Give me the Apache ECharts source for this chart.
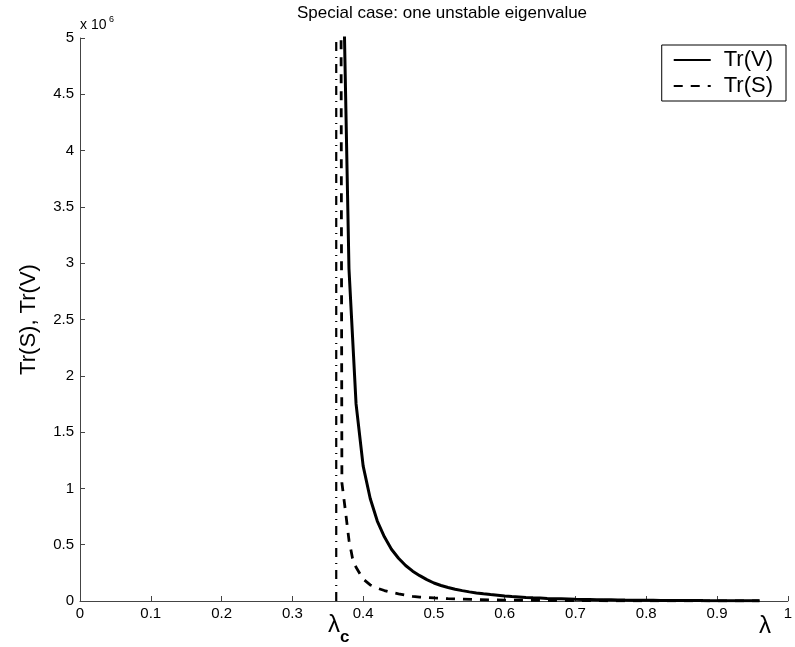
<!DOCTYPE html>
<html>
<head>
<meta charset="utf-8">
<script src="https://cdn.jsdelivr.net/npm/echarts@6/dist/echarts.min.js"></script>
<style>html,body{margin:0;padding:0;background:#fff}#c{width:795px;height:647px}</style>
</head>
<body>
<div id="c"></div>
<script>
// Data
var lambdaV = [0.37,0.38,0.39,0.40,0.41,0.42,0.43,0.44,0.45,0.46,0.47,0.48,0.49,0.50,0.51,0.52,0.53,0.54,0.55,0.56,0.57,0.58,0.59,0.60,0.61,0.62,0.63,0.64,0.65,0.66,0.67,0.68,0.69,0.70,0.71,0.72,0.73,0.74,0.75,0.76,0.77,0.78,0.79,0.80,0.81,0.82,0.83,0.84,0.85,0.86,0.87,0.88,0.89,0.90,0.91,0.92,0.93,0.94,0.95,0.96];
var trV = [6.2e6,2.95e6,1.75e6,1.2e6,0.91e6,0.71e6,0.57e6,0.46e6,0.38e6,0.315e6,0.265e6,0.225e6,0.19e6,0.16e6,0.138e6,0.12e6,0.105e6,0.092e6,0.081e6,0.072e6,0.064e6,0.057e6,0.051e6,0.045e6,0.040e6,0.036e6,0.032e6,0.029e6,0.026e6,0.023e6,0.021e6,0.019e6,0.017e6,0.015e6,0.014e6,0.013e6,0.012e6,0.011e6,0.010e6,0.009e6,0.008e6,0.0075e6,0.007e6,0.0065e6,0.006e6,0.0055e6,0.005e6,0.0047e6,0.0044e6,0.0041e6,0.0038e6,0.0035e6,0.0033e6,0.0031e6,0.0029e6,0.0027e6,0.0025e6,0.0024e6,0.0023e6,0.0022e6];
var lambdaS = [0.368,0.370,0.375,0.38,0.385,0.39,0.40,0.41,0.42,0.43,0.44,0.45,0.46,0.47,0.48,0.49,0.50,0.52,0.54,0.56,0.58,0.60,0.65,0.70,0.80,0.96];
var trS = [8.0e6,1.05e6,0.80e6,0.54e6,0.38e6,0.30e6,0.195e6,0.143e6,0.114e6,0.093e6,0.077e6,0.063e6,0.051e6,0.041e6,0.035e6,0.031e6,0.027e6,0.021e6,0.016e6,0.013e6,0.010e6,0.008e6,0.005e6,0.003e6,0.0015e6,0.0007e6];
var lambdaC = 0.362;
var yRange = [0, 5e6];
var xTicks = [0, 1, 0.1];
var yTick = 0.5e6;

function pairs(xs, ys){ return xs.map(function(x,i){ return [x, ys[i]]; }); }

var FONT = '"Liberation Sans", Arial, sans-serif';
var chart = echarts.init(document.getElementById('c'), null, {renderer:'canvas'});
chart.setOption({
  backgroundColor: '#fff',
  animation: false,
  title: {
    text: 'Special case: one unstable eigenvalue',
    left: 437, top: 0, textAlign: 'center',
    textStyle: {fontFamily: FONT, fontSize: 17, fontWeight: 'normal', color: '#000'}
  },
  grid: {left: 80, right: 1, top: 38, bottom: 46, containLabel: false},
  legend: {
    data: ['Tr(V)', 'Tr(S)'],
    orient: 'vertical',
    right: 9, top: 45,
    padding: [4, 13, 4, 11],
    itemWidth: 37, itemHeight: 14, itemGap: 4,
    borderColor: '#000', borderWidth: 1,
    backgroundColor: '#fff',
    itemStyle: {opacity: 0},
    textStyle: {fontFamily: FONT, fontSize: 22, lineHeight: 22, color: '#000', padding: [0, 0, 0, 8]}
  },
  xAxis: {
    type: 'value', min: xTicks[0], max: xTicks[1], interval: xTicks[2],
    axisLine: {show: true, onZero: false, lineStyle: {color: '#444', width: 1}},
    axisTick: {show: true, inside: true, length: 5, lineStyle: {color: '#444'}},
    axisLabel: {fontFamily: FONT, fontSize: 15, color: '#000', margin: 5},
    splitLine: {show: false}
  },
  yAxis: {
    type: 'value', min: yRange[0], max: yRange[1], interval: yTick,
    name: 'Tr(S), Tr(V)', nameLocation: 'middle', nameGap: 40, nameRotate: 90,
    nameTextStyle: {fontFamily: FONT, fontSize: 22, color: '#000'},
    axisLine: {show: true, lineStyle: {color: '#444', width: 1}},
    axisTick: {show: true, inside: true, length: 5, lineStyle: {color: '#444'}},
    axisLabel: {fontFamily: FONT, fontSize: 15, color: '#000', margin: 6,
      formatter: function(v){ return String(Math.round(v/1e5)/10); }},
    splitLine: {show: false}
  },
  graphic: [
    {type: 'text', left: 80, top: 18, style: {text: 'x 10', fontFamily: FONT, fontSize: 14, fill: '#000'}},
    {type: 'text', left: 109, top: 15, style: {text: '6', fontFamily: FONT, fontSize: 9, fill: '#000'}},
    {type: 'text', left: 759, top: 614, style: {text: 'λ', fontFamily: FONT, fontSize: 24, fill: '#000'}},
    {type: 'text', left: 328, top: 613, style: {text: 'λ', fontFamily: FONT, fontSize: 24, fill: '#000'}},
    {type: 'text', left: 340, top: 629, style: {text: 'c', fontFamily: FONT, fontSize: 17, fontWeight: 'bold', fill: '#000'}}
  ],
  series: [
    {
      name: 'lambdaC', type: 'line', symbol: 'none', silent: true,
      data: [[lambdaC, yRange[0]], [lambdaC, yRange[1]]],
      lineStyle: {color: '#000', width: 2.2, type: [9, 6, 1, 6]}
    },
    {
      name: 'Tr(V)', type: 'line', symbol: 'none',
      data: pairs(lambdaV, trV),
      lineStyle: {color: '#000', width: 3, type: 'solid'},
      itemStyle: {color: '#000'}
    },
    {
      name: 'Tr(S)', type: 'line', symbol: 'none',
      data: pairs(lambdaS, trS),
      lineStyle: {color: '#000', width: 2.8, type: [9, 8]},
      itemStyle: {color: '#000'}
    }
  ]
});
</script>
</body>
</html>
